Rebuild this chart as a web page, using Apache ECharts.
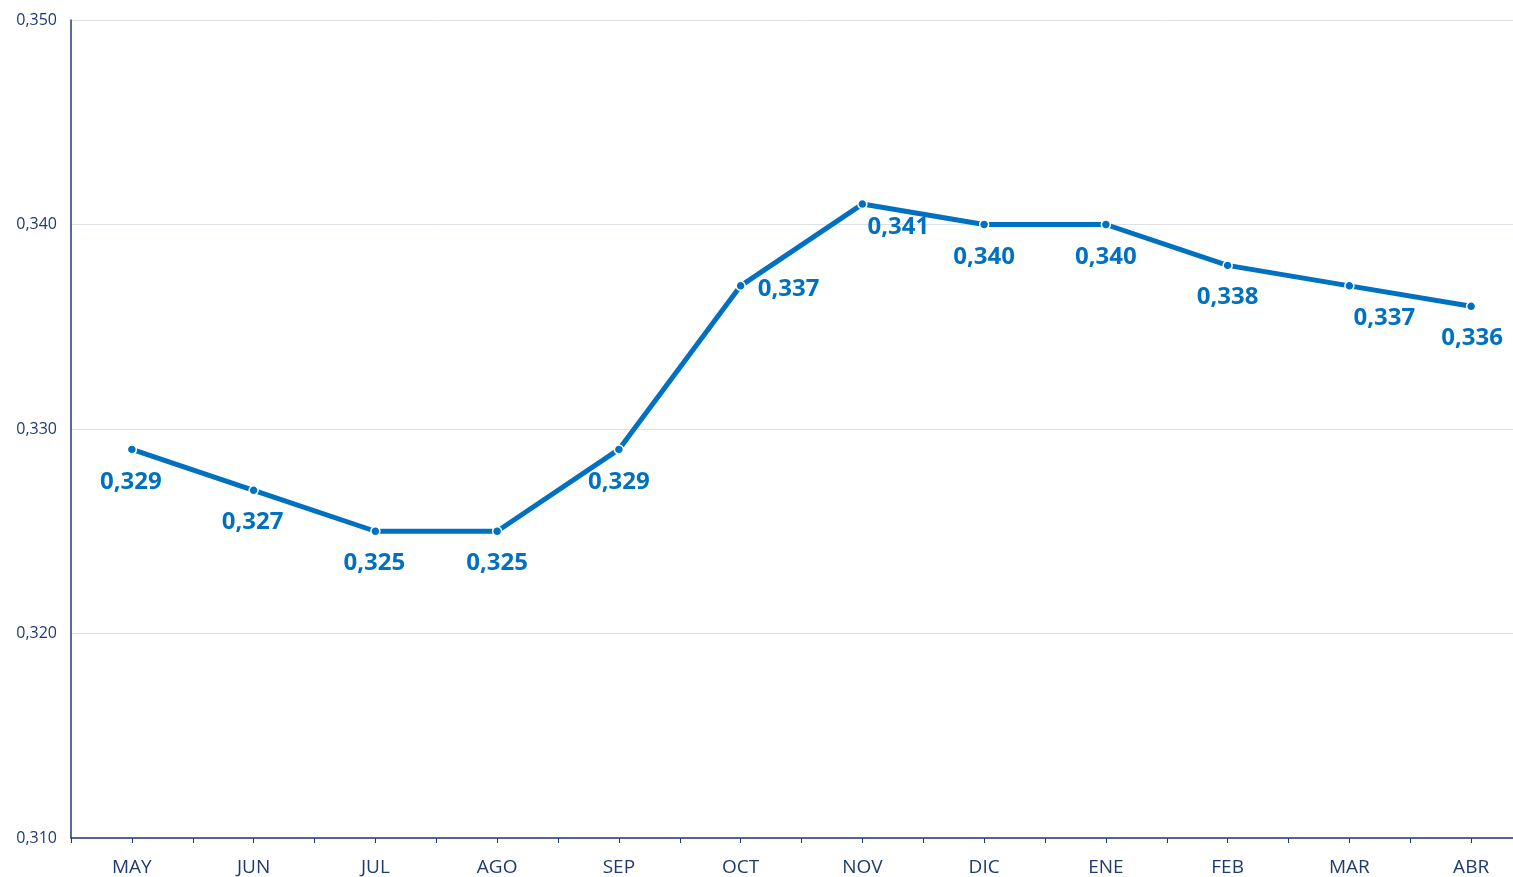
<!DOCTYPE html>
<html>
<head>
<meta charset="utf-8">
<script src="https://cdn.jsdelivr.net/npm/echarts@6/dist/echarts.min.js"></script>
<style>
html,body{margin:0;padding:0;background:#fff;overflow:hidden;width:1513px;height:877px;}
#chart{width:1532px;height:877px;}
</style>
</head>
<body>
<div id="chart"></div>
<script>
const categories = ['MAY','JUN','JUL','AGO','SEP','OCT','NOV','DIC','ENE','FEB','MAR','ABR'];
const values = [0.329, 0.327, 0.325, 0.325, 0.329, 0.337, 0.341, 0.340, 0.340, 0.338, 0.337, 0.336];
const yTicks = { min: 0.31, max: 0.35, interval: 0.01 };

// label placement tweaks (layout only)
const labelOffsets = [[-1,0],[-1,0],[-1,0],[0,0],[0,0],[48,-29],[36,-9],[0,0],[0,0],[0,0],[35,0],[1,0]];

const fmt = v => v.toFixed(3).replace('.', ',');
const navy = '#1f3a70';
const blue = '#0070c0';

const seriesData = values.map((v, i) => ({
  value: v,
  label: { offset: labelOffsets[i] }
}));

const chart = echarts.init(document.getElementById('chart'), null, { renderer: 'canvas' });
chart.setOption({
  animation: false,
  backgroundColor: '#ffffff',
  textStyle: { fontFamily: 'Open Sans' },
  grid: { left: 71, right: 0, top: 20, bottom: 38, containLabel: false },
  xAxis: [{
    type: 'category',
    data: categories,
    position: 'bottom',
    boundaryGap: true,
    axisLine: { show: true, lineStyle: { color: navy, width: 1.5 } },
    axisTick: { show: true, length: 5, lineStyle: { color: navy } },
    axisLabel: { color: navy, fontSize: 19, margin: 20, fontFamily: 'Open Sans' },
    splitLine: { show: false }
  }, {
    type: 'category',
    data: categories,
    position: 'bottom',
    boundaryGap: true,
    axisLine: { show: false },
    axisTick: { show: true, alignWithLabel: true, length: 5, lineStyle: { color: navy } },
    axisLabel: { show: false },
    splitLine: { show: false }
  }],
  yAxis: {
    type: 'value',
    min: yTicks.min,
    max: yTicks.max,
    interval: yTicks.interval,
    axisLine: { show: true, lineStyle: { color: navy, width: 1.5 } },
    axisTick: { show: false },
    axisLabel: { color: navy, fontSize: 16, margin: 14, formatter: v => fmt(v), fontFamily: 'Open Sans' },
    splitLine: { show: true, lineStyle: { color: '#dde1e9', width: 1 } }
  },
  series: [{
    type: 'line',
    data: seriesData,
    xAxisIndex: 0,
    symbol: 'circle',
    symbolSize: 9,
    lineStyle: { color: blue, width: 5 },
    itemStyle: { color: blue, borderColor: '#ffffff', borderWidth: 1.5 },
    label: {
      show: true,
      position: 'bottom',
      distance: 15,
      color: blue,
      fontSize: 24,
      fontWeight: 'bold',
      fontFamily: 'Open Sans',
      formatter: p => fmt(p.value)
    },
    z: 5
  }]
});
</script>
</body>
</html>
